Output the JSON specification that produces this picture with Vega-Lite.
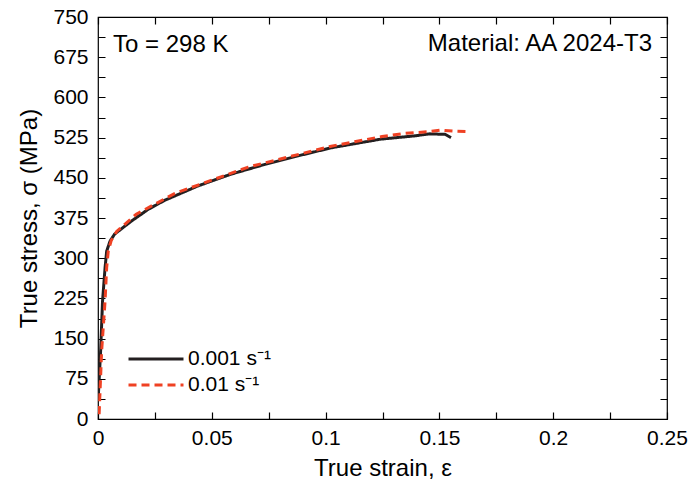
{
  "$schema": "https://vega.github.io/schema/vega-lite/v6.json",
  "width": 569,
  "height": 402,
  "autosize": {"type": "none"},
  "padding": {"left": 98, "top": 17, "right": 23, "bottom": 64},
  "background": "white",
  "config": {
    "font": "Liberation Sans",
    "view": {"stroke": "#000000", "strokeWidth": 1.2},
    "axis": {
      "domain": false,
      "ticks": false,
      "grid": true,
      "gridColor": "#000000",
      "gridOpacity": 1,
      "gridWidth": 1.2,
      "labelFont": "Liberation Sans",
      "labelFontSize": 21,
      "labelColor": "#000000",
      "titleFont": "Liberation Sans",
      "titleFontSize": 24,
      "titleFontWeight": "normal",
      "titleColor": "#000000",
      "labelOverlap": false,
      "labelBound": false,
      "labelFlush": false
    },
    "legend": {
      "labelFont": "Liberation Sans",
      "labelFontSize": 21,
      "labelColor": "#000000"
    }
  },
  "datasets": {
    "curves": [
      {"strain": 0.0001, "stress": 40, "rate": "0.001 s⁻¹"},
      {"strain": 0.00115, "stress": 127, "rate": "0.001 s⁻¹"},
      {"strain": 0.002, "stress": 220, "rate": "0.001 s⁻¹"},
      {"strain": 0.0031, "stress": 282, "rate": "0.001 s⁻¹"},
      {"strain": 0.0038, "stress": 313, "rate": "0.001 s⁻¹"},
      {"strain": 0.0053, "stress": 332, "rate": "0.001 s⁻¹"},
      {"strain": 0.0073, "stress": 345, "rate": "0.001 s⁻¹"},
      {"strain": 0.0146, "stress": 369, "rate": "0.001 s⁻¹"},
      {"strain": 0.022, "stress": 391, "rate": "0.001 s⁻¹"},
      {"strain": 0.0293, "stress": 408, "rate": "0.001 s⁻¹"},
      {"strain": 0.044, "stress": 435, "rate": "0.001 s⁻¹"},
      {"strain": 0.0586, "stress": 457, "rate": "0.001 s⁻¹"},
      {"strain": 0.0733, "stress": 475, "rate": "0.001 s⁻¹"},
      {"strain": 0.0879, "stress": 491, "rate": "0.001 s⁻¹"},
      {"strain": 0.1025, "stress": 506, "rate": "0.001 s⁻¹"},
      {"strain": 0.124, "stress": 522, "rate": "0.001 s⁻¹"},
      {"strain": 0.1386, "stress": 528, "rate": "0.001 s⁻¹"},
      {"strain": 0.1459, "stress": 532, "rate": "0.001 s⁻¹"},
      {"strain": 0.1526, "stress": 531, "rate": "0.001 s⁻¹"},
      {"strain": 0.1551, "stress": 525, "rate": "0.001 s⁻¹"},
      {"strain": 0.0005, "stress": 9, "rate": "0.01 s⁻¹"},
      {"strain": 0.0016, "stress": 127, "rate": "0.01 s⁻¹"},
      {"strain": 0.0031, "stress": 220, "rate": "0.01 s⁻¹"},
      {"strain": 0.0038, "stress": 282, "rate": "0.01 s⁻¹"},
      {"strain": 0.0045, "stress": 313, "rate": "0.01 s⁻¹"},
      {"strain": 0.0058, "stress": 333, "rate": "0.01 s⁻¹"},
      {"strain": 0.0082, "stress": 350, "rate": "0.01 s⁻¹"},
      {"strain": 0.0168, "stress": 382, "rate": "0.01 s⁻¹"},
      {"strain": 0.0338, "stress": 421, "rate": "0.01 s⁻¹"},
      {"strain": 0.066, "stress": 470, "rate": "0.01 s⁻¹"},
      {"strain": 0.1025, "stress": 509, "rate": "0.01 s⁻¹"},
      {"strain": 0.1248, "stress": 527, "rate": "0.01 s⁻¹"},
      {"strain": 0.135, "stress": 533, "rate": "0.01 s⁻¹"},
      {"strain": 0.1453, "stress": 536, "rate": "0.01 s⁻¹"},
      {"strain": 0.1508, "stress": 539, "rate": "0.01 s⁻¹"},
      {"strain": 0.1562, "stress": 537, "rate": "0.01 s⁻¹"},
      {"strain": 0.1635, "stress": 536, "rate": "0.01 s⁻¹"}
    ],
    "noteLeft": [{"strain": 0.0066, "stress": 685, "label": "To = 298 K"}],
    "noteRight": [{"strain": 0.2434, "stress": 686, "label": "Material: AA 2024-T3"}]
  },
  "layer": [
    {
      "data": {"name": "curves"},
      "mark": {"type": "line", "strokeWidth": 3, "clip": true},
      "encoding": {
        "x": {
          "field": "strain", "type": "quantitative",
          "scale": {"domain": [0, 0.25], "nice": false, "zero": false},
          "axis": {
            "orient": "bottom",
            "title": "True strain, ε",
            "titlePadding": 8,
            "values": [0,0.025,0.05,0.075,0.1,0.125,0.15,0.175,0.2,0.225,0.25],
            "gridDash": [7, 388, 7, 0],
            "labelExpr": "abs(datum.value*20 - round(datum.value*20)) < 1e-6 ? '' + datum.value : ''",
            "labelPadding": 8
          }
        },
        "y": {
          "field": "stress", "type": "quantitative",
          "scale": {"domain": [0, 750], "nice": false, "zero": false},
          "axis": {
            "orient": "left",
            "title": "True stress, σ (MPa)",
            "titlePadding": 11,
            "values": [0,37.5,75,112.5,150,187.5,225,262.5,300,337.5,375,412.5,450,487.5,525,562.5,600,637.5,675,712.5,750],
            "gridDash": [7, 555, 7, 0],
            "labelExpr": "abs(datum.value/75 - round(datum.value/75)) < 1e-6 ? '' + datum.value : ''",
            "labelPadding": 10
          }
        },
        "color": {
          "field": "rate", "type": "nominal",
          "scale": {"domain": ["0.001 s⁻¹", "0.01 s⁻¹"], "range": ["#231F20", "#EF4123"]},
          "legend": {
            "title": null,
            "orient": "none",
            "legendX": 47,
            "legendY": 331,
            "symbolType": "M-3,0H3",
            "symbolSize": 336,
            "symbolStrokeWidth": 3,
            "labelOffset": 21,
            "rowPadding": 5,
            "padding": 0
          }
        },
        "strokeDash": {
          "field": "rate", "type": "nominal",
          "scale": {"domain": ["0.001 s⁻¹", "0.01 s⁻¹"], "range": [[1, 0], [8, 5]]},
          "legend": {
            "title": null,
            "orient": "none",
            "legendX": 47,
            "legendY": 331,
            "symbolType": "M-3,0H3",
            "symbolSize": 336,
            "symbolStrokeWidth": 3,
            "labelOffset": 21,
            "rowPadding": 5,
            "padding": 0
          }
        },
        "order": {"field": "strain", "type": "quantitative"}
      }
    },
    {
      "data": {"name": "noteLeft"},
      "mark": {"type": "text", "align": "left", "baseline": "alphabetic", "fontSize": 24, "color": "#000000"},
      "encoding": {
        "x": {
          "field": "strain", "type": "quantitative",
          "axis": {
            "orient": "bottom", "title": null, "labels": false,
            "values": [0,0.0025,0.005,0.0075,0.01,0.0125,0.015,0.0175,0.02,0.0225,0.025,0.0275,0.03,0.0325,0.035,0.0375,0.04,0.0425,0.045,0.0475,0.05,0.0525,0.055,0.0575,0.06,0.0625,0.065,0.0675,0.07,0.0725,0.075,0.0775,0.08,0.0825,0.085,0.0875,0.09,0.0925,0.095,0.0975,0.1,0.1025,0.105,0.1075,0.11,0.1125,0.115,0.1175,0.12,0.1225,0.125,0.1275,0.13,0.1325,0.135,0.1375,0.14,0.1425,0.145,0.1475,0.15,0.1525,0.155,0.1575,0.16,0.1625,0.165,0.1675,0.17,0.1725,0.175,0.1775,0.18,0.1825,0.185,0.1875,0.19,0.1925,0.195,0.1975,0.2,0.2025,0.205,0.2075,0.21,0.2125,0.215,0.2175,0.22,0.2225,0.225,0.2275,0.23,0.2325,0.235,0.2375,0.24,0.2425,0.245,0.2475,0.25],
            "gridDash": [4, 394, 4, 0]
          }
        },
        "y": {
          "field": "stress", "type": "quantitative",
          "axis": {
            "orient": "left", "title": null, "labels": false,
            "values": [0,6.25,12.5,18.75,25,31.25,37.5,43.75,50,56.25,62.5,68.75,75,81.25,87.5,93.75,100,106.25,112.5,118.75,125,131.25,137.5,143.75,150,156.25,162.5,168.75,175,181.25,187.5,193.75,200,206.25,212.5,218.75,225,231.25,237.5,243.75,250,256.25,262.5,268.75,275,281.25,287.5,293.75,300,306.25,312.5,318.75,325,331.25,337.5,343.75,350,356.25,362.5,368.75,375,381.25,387.5,393.75,400,406.25,412.5,418.75,425,431.25,437.5,443.75,450,456.25,462.5,468.75,475,481.25,487.5,493.75,500,506.25,512.5,518.75,525,531.25,537.5,543.75,550,556.25,562.5,568.75,575,581.25,587.5,593.75,600,606.25,612.5,618.75,625,631.25,637.5,643.75,650,656.25,662.5,668.75,675,681.25,687.5,693.75,700,706.25,712.5,718.75,725,731.25,737.5,743.75,750],
            "gridDash": [4, 561, 4, 0]
          }
        },
        "text": {"field": "label", "type": "nominal"}
      }
    },
    {
      "data": {"name": "noteRight"},
      "mark": {"type": "text", "align": "right", "baseline": "alphabetic", "fontSize": 24, "color": "#000000"},
      "encoding": {
        "x": {"field": "strain", "type": "quantitative", "axis": null},
        "y": {"field": "stress", "type": "quantitative", "axis": null},
        "text": {"field": "label", "type": "nominal"}
      }
    }
  ],
  "resolve": {"axis": {"x": "independent", "y": "independent"}}
}
